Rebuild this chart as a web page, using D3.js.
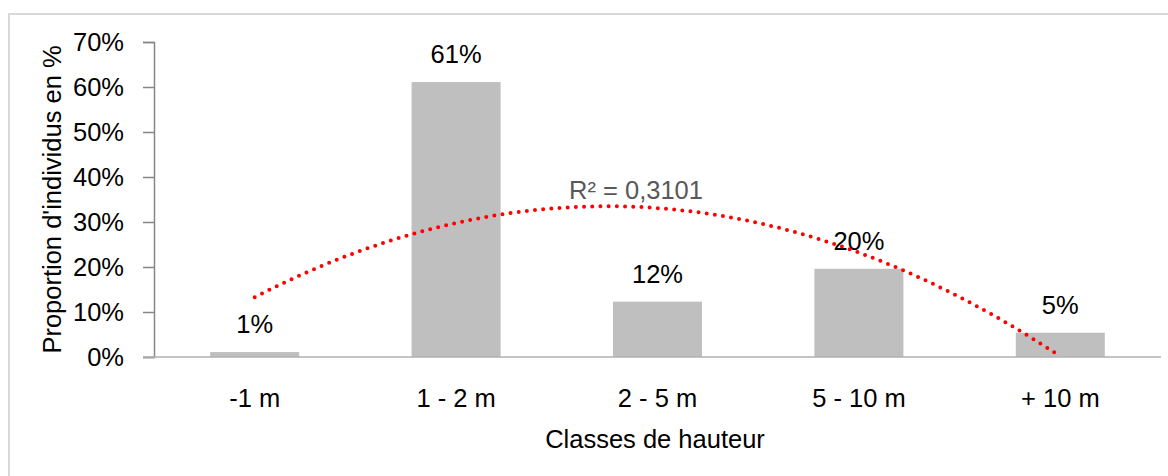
<!DOCTYPE html>
<html>
<head>
<meta charset="utf-8">
<script src="https://cdn.jsdelivr.net/npm/d3@7"></script>
<style>
  body { margin: 0; background: #fff; }
  text { font-family: "Liberation Sans", Arial, sans-serif; }
</style>
</head>
<body>
<div id="plot"></div>
<script>
// data
const categories = ["-1 m", "1 - 2 m", "2 - 5 m", "5 - 10 m", "+ 10 m"];
const values = [1.1, 61.1, 12.3, 19.6, 5.4];
const labels = ["1%", "61%", "12%", "20%", "5%"];
const yTicks = [0, 10, 20, 30, 40, 50, 60, 70];
const r2Label = "R² = 0,3101";

const width = 1168,
  height = 476;
const fontSize = 25.5;

const svg = d3.select("#plot").append("svg").attr("width", width).attr("height", height);

// chart border
svg.append("rect").attr("x", 9).attr("y", 14).attr("width", 1200).attr("height", 500)
  .attr("fill", "#fff").attr("stroke", "#d9d9d9").attr("stroke-width", 2);

const plot = { left: 154, right: 1161, top: 42, bottom: 357 };

const x = d3.scaleBand().domain(categories).range([plot.left, plot.right]).paddingInner(0.558).paddingOuter(0.279);
const y = d3.scaleLinear().domain([0, 70]).range([plot.bottom, plot.top]);

// y axis
const yAxis = svg.append("g").attr("transform", `translate(${plot.left},0)`)
  .call(d3.axisLeft(y).tickValues(yTicks).tickSize(11).tickPadding(19).tickFormat(d => d + "%"));
yAxis.select(".domain").attr("stroke", "#868686").attr("stroke-width", 1.5);
yAxis.selectAll(".tick line").attr("stroke", "#868686").attr("stroke-width", 1.5);
yAxis.selectAll(".tick text").attr("font-size", fontSize).attr("fill", "#000")
  .attr("font-family", "Liberation Sans, Arial, sans-serif");

// bars
svg.append("g").selectAll("rect").data(values).join("rect")
  .attr("x", (d, i) => x(categories[i]))
  .attr("y", d => y(d))
  .attr("width", x.bandwidth())
  .attr("height", d => y(0) - y(d))
  .attr("fill", "#bfbfbf");

// x axis line
const xAxis = svg.append("g").attr("transform", `translate(0,${plot.bottom})`)
  .call(d3.axisBottom(x).tickSize(0).tickPadding(32));
xAxis.select(".domain").attr("stroke", "#b0b0b0").attr("stroke-width", 1.5)
  .attr("d", `M${plot.left - 11},0H${plot.right}`);
xAxis.selectAll(".tick text").attr("font-size", fontSize).attr("fill", "#000")
  .attr("font-family", "Liberation Sans, Arial, sans-serif");

// data labels
svg.append("g").selectAll("text").data(values).join("text")
  .attr("x", (d, i) => x(categories[i]) + x.bandwidth() / 2)
  .attr("y", d => y(d) - 19)
  .attr("text-anchor", "middle")
  .attr("font-size", fontSize)
  .text((d, i) => labels[i]);

// polynomial (order 2) trendline, least squares on x = 1..n
const n = values.length;
const xs = values.map((d, i) => i + 1);
let S = [0, 0, 0, 0, 0], T = [0, 0, 0];
xs.forEach((xv, i) => {
  for (let k = 0; k < 5; k++) S[k] += Math.pow(xv, k);
  for (let k = 0; k < 3; k++) T[k] += Math.pow(xv, k) * values[i];
});
// solve 3x3 system
const M = [[S[0], S[1], S[2], T[0]], [S[1], S[2], S[3], T[1]], [S[2], S[3], S[4], T[2]]];
for (let c = 0; c < 3; c++) {
  for (let r = c + 1; r < 3; r++) {
    const f = M[r][c] / M[c][c];
    for (let k = c; k < 4; k++) M[r][k] -= f * M[c][k];
  }
}
const coef = [0, 0, 0];
for (let r = 2; r >= 0; r--) {
  let s = M[r][3];
  for (let k = r + 1; k < 3; k++) s -= M[r][k] * coef[k];
  coef[r] = s / M[r][r];
}
const fit = t => coef[0] + coef[1] * t + coef[2] * t * t;

const xPos = t => {
  const c0 = x(categories[0]) + x.bandwidth() / 2;
  return c0 + (t - 1) * x.step();
};
const trend = d3.range(1, n + 0.001, 0.02).map(t => [xPos(t), y(Math.max(fit(t), 0))]);

svg.append("path").datum(trend)
  .attr("d", d3.line())
  .attr("fill", "none")
  .attr("stroke", "#ff0000")
  .attr("stroke-width", 4)
  .attr("stroke-linecap", "round")
  .attr("stroke-dasharray", "0 8.2");

svg.append("text").attr("x", 636).attr("y", 199)
  .attr("text-anchor", "middle").attr("font-size", fontSize).attr("fill", "#595959")
  .text(r2Label);

// axis titles
svg.append("text").attr("x", 655).attr("y", 448)
  .attr("text-anchor", "middle").attr("font-size", fontSize).text("Classes de hauteur");

svg.append("text").attr("transform", `translate(61,${(plot.top + plot.bottom) / 2}) rotate(-90)`)
  .attr("text-anchor", "middle").attr("font-size", fontSize).text("Proportion d'individus en %");
</script>
</body>
</html>
